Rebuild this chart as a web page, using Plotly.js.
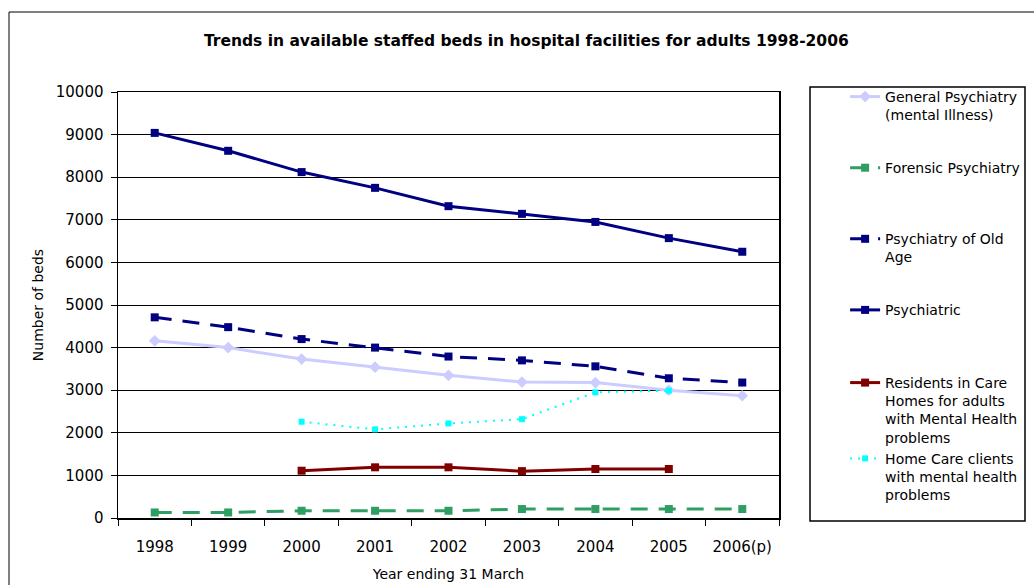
<!DOCTYPE html>
<html><head><meta charset="utf-8">
<script src="https://cdn.plot.ly/plotly-3.0.1.min.js"></script>
<style>html,body{margin:0;padding:0;background:#fff;}#chart{width:1034px;height:585px;}</style>
</head><body><div id="chart"></div>
<script>
const years = ["1998","1999","2000","2001","2002","2003","2004","2005","2006(p)"];
const generalPsychiatry = [4160, 4000, 3730, 3540, 3350, 3190, 3180, 3000, 2870];
const forensicPsychiatry = [130, 130, 170, 170, 170, 210, 210, 210, 210];
const oldAgePsychiatry = [4710, 4480, 4200, 4000, 3790, 3700, 3560, 3280, 3180];
const psychiatric = [9040, 8620, 8120, 7750, 7320, 7140, 6950, 6570, 6250];
const careHomeResidents = [null, null, 1110, 1190, 1190, 1100, 1150, 1150, null];
const homeCareClients = [null, null, 2260, 2080, 2220, 2320, 2950, 2990, null];
const seriesNames = [
  ["General Psychiatry", "(mental Illness)"],
  ["Forensic Psychiatry"],
  ["Psychiatry of Old", "Age"],
  ["Psychiatric"],
  ["Residents in Care", "Homes for adults", "with Mental Health", "problems"],
  ["Home Care clients", "with mental health", "problems"]
];
// legend entries padded to the same number of lines so they are spread out like the original
function legendName(lines, minLines) {
  const out = lines.slice();
  while (out.length < minLines) out.push("\u00a0");
  return out.join("<br>");
}
const names = seriesNames.map((l, i) => legendName(l, i < 3 ? 3 : 0));

const traces = [
  {x: years, y: generalPsychiatry, name: names[0], legendgroup: "g1", mode: "lines+markers",
   line: {color: "#ccccff", width: 3}, marker: {symbol: "diamond", size: 9, color: "#ccccff"}},
  {x: years, y: forensicPsychiatry, name: names[1], legendgroup: "g2", mode: "lines+markers",
   line: {color: "#2e9e63", width: 3, dash: "17px,11px"}, marker: {symbol: "square", size: 8, color: "#2e9e63"}},
  {x: years, y: oldAgePsychiatry, name: names[2], legendgroup: "g3", mode: "lines+markers",
   line: {color: "#000080", width: 3, dash: "17px,11px"}, marker: {symbol: "square", size: 8, color: "#000080"}},
  {x: years, y: psychiatric, name: names[3], legendgroup: "g4", mode: "lines+markers",
   line: {color: "#000080", width: 3}, marker: {symbol: "square", size: 8, color: "#000080"}},
  {x: years, y: careHomeResidents, name: names[4], legend: "legend2", legendgroup: "g5", mode: "lines+markers",
   line: {color: "#800000", width: 3}, marker: {symbol: "square", size: 8, color: "#800000"}},
  {x: years, y: homeCareClients, name: names[5], legend: "legend2", legendgroup: "g5", mode: "lines+markers",
   line: {color: "#00ffff", width: 2, dash: "2px,6px"}, marker: {symbol: "square", size: 6, color: "#00ffff"}}
];

const FF = "DejaVu Sans, Verdana, sans-serif";
const legendBase = {x: 1.1, xanchor: "left", yanchor: "top", traceorder: "grouped",
  font: {size: 14}, bgcolor: "rgba(0,0,0,0)", borderwidth: 0, itemclick: false, valign: "top"};
const layout = {
  width: 1034, height: 585,
  margin: {l: 118, r: 255, t: 92, b: 67, autoexpand: false},
  paper_bgcolor: "#fff", plot_bgcolor: "#fff",
  font: {family: FF, size: 14, color: "#000"},
  showlegend: true,
  title: {text: "<b>Trends in available staffed beds in hospital facilities for adults 1998-2006</b>",
    font: {family: FF, size: 15.5, color: "#000"},
    x: 0.509, xanchor: "center", xref: "container", y: 0.93, yanchor: "middle", yref: "container"},
  xaxis: {type: "category", range: [-0.5, 8.5], tickson: "boundaries", ticks: "outside", ticklen: 6,
    tickcolor: "#000", showline: true, linecolor: "#000", linewidth: 1.5, mirror: true, showgrid: false,
    tickfont: {size: 15}, ticklabelstandoff: 14,
    title: {text: "Year ending 31 March", font: {size: 14}, standoff: 14}},
  yaxis: {range: [0, 10000], dtick: 1000, tickformat: "d", ticks: "outside", ticklen: 6, tickcolor: "#000",
    showline: true, linecolor: "#000", linewidth: 1.5, mirror: true,
    showgrid: true, gridcolor: "#000", gridwidth: 1, zeroline: false, tickfont: {size: 15}, ticklabelstandoff: 4,
    title: {text: "Number of beds", font: {size: 14}, standoff: 9}},
  legend: Object.assign({}, legendBase, {y: (518-81)/426, tracegroupgap: 13.5}),
  legend2: Object.assign({}, legendBase, {y: (518-367)/426, tracegroupgap: 0}),
  shapes: [
    {type: "rect", xref: "paper", yref: "paper", x0: (9-118)/661, x1: (1040-118)/661, y0: -0.2, y1: (518-12)/426,
     line: {color: "#000", width: 1}, fillcolor: "rgba(0,0,0,0)", layer: "below"},
    {type: "rect", xref: "paper", yref: "paper", x0: (810-118)/661, x1: (1025-118)/661, y0: (518-521)/426, y1: (518-87)/426,
     line: {color: "#000", width: 1.5}, fillcolor: "rgba(0,0,0,0)"}
  ]
};
Plotly.newPlot("chart", traces, layout, {displayModeBar: false, staticPlot: true});
</script></body></html>
